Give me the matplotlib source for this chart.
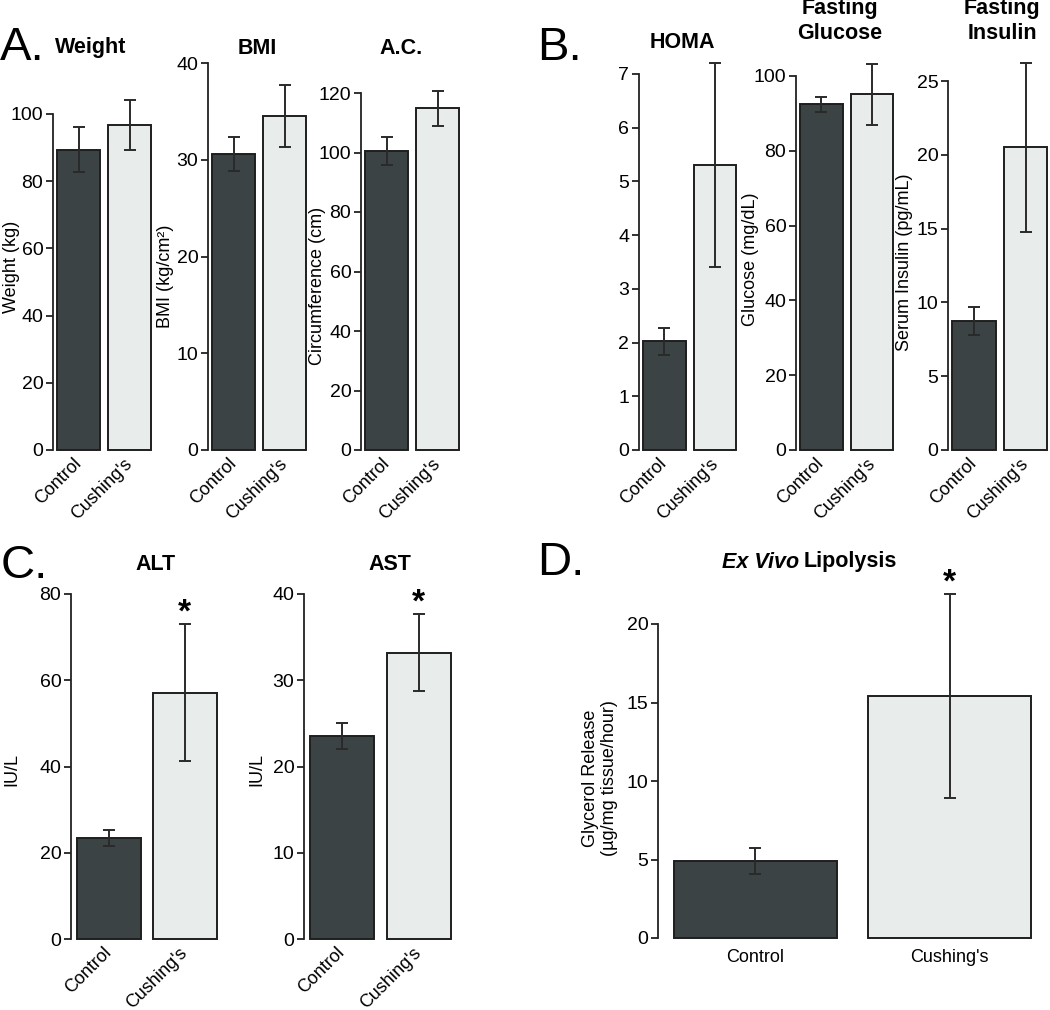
import numpy as np
import matplotlib
matplotlib.use("Agg")
import matplotlib.pyplot as plt

plt.rcParams['font.family'] = ['Liberation Sans', 'DejaVu Sans']

groups = ["Control", "Cushing's"]

weight_mean = [89.3, 96.7]
weight_err = [6.7, 7.4]
bmi_mean = [30.6, 34.5]
bmi_err = [1.8, 3.2]
ac_mean = [100.6, 114.8]
ac_err = [4.7, 6.0]
homa_mean = [2.02, 5.31]
homa_err = [0.26, 1.9]
glucose_mean = [92.4, 95.1]
glucose_err = [1.9, 8.2]
insulin_mean = [8.75, 20.5]
insulin_err = [0.96, 5.7]
alt_mean = [23.4, 57.1]
alt_err = [1.9, 15.9]
ast_mean = [23.5, 33.2]
ast_err = [1.5, 4.45]
lipo_mean = [4.9, 15.4]
lipo_err = [0.83, 6.5]

DARK = '#3b4345'
LIGHT = '#e8ecea'
EDGE = '#1e1e1e'
W, H = 1050, 1010

fig = plt.figure(figsize=(W / 100, H / 100), dpi=100)


def px_axes(left, width, top, zero):
    # pixel box -> figure fraction
    return fig.add_axes([left / W, 1 - zero / H, width / W, (zero - top) / H])


def bar_panel(ax, mean, err, ymax, step, ylabel=None, lab_xy=None, star=False, rotate=True):
    x = np.arange(len(groups))
    ax.bar(x, mean, width=0.84, color=[DARK, LIGHT], edgecolor=EDGE,
           linewidth=1.4, clip_on=False)
    eb = ax.errorbar(x, mean, yerr=err, fmt='none', ecolor='#2a2a2a',
                     elinewidth=1.4, capsize=4, capthick=1.4)
    for a in list(eb[1]) + list(eb[2]):
        a.set_clip_on(False)
    ax.set_xlim(-0.5, 1.45)
    ax.set_ylim(0, ymax)
    ax.set_yticks(np.arange(0, ymax + step / 2, step))
    for s in ['top', 'right', 'bottom']:
        ax.spines[s].set_visible(False)
    ax.spines['left'].set_linewidth(1.3)
    ax.spines['left'].set_color('#222222')
    ax.tick_params(axis='y', length=5, width=1.3, labelsize=14, pad=2, color='#222222')
    ax.set_xticks(x)
    if rotate:
        ax.set_xticklabels(groups, rotation=45, ha='right', va='center',
                           rotation_mode='anchor', fontsize=13)
        ax.tick_params(axis='x', length=0, pad=8)
    else:
        ax.set_xticklabels(groups, fontsize=13)
        ax.tick_params(axis='x', length=0, pad=8)
    if ylabel:
        ax.set_ylabel(ylabel, fontsize=13)
        ax.yaxis.set_label_coords(*lab_xy)
    if star:
        ax.annotate('*', xy=(1, mean[1] + err[1]), xytext=(0, -3),
                    textcoords='offset points', ha='center', va='bottom',
                    fontsize=24, fontweight='bold', annotation_clip=False)


# A
ax = px_axes(53, 100, 114, 450)
bar_panel(ax, weight_mean, weight_err, 100, 20, 'Weight (kg)', (-0.33, 0.545))
ax = px_axes(208, 100, 63, 450)
bar_panel(ax, bmi_mean, bmi_err, 40, 10, 'BMI (kg/cm²)', (-0.34, 0.45))
ax = px_axes(361, 100, 93, 450)
bar_panel(ax, ac_mean, ac_err, 120, 20, 'Circumference (cm)', (-0.35, 0.46))

# B
ax = px_axes(639, 99, 74, 450)
bar_panel(ax, homa_mean, homa_err, 7, 1)
ax = px_axes(796, 99, 76, 450)
bar_panel(ax, glucose_mean, glucose_err, 100, 20, 'Glucose (mg/dL)', (-0.37, 0.51))
ax = px_axes(948, 101, 81, 450)
bar_panel(ax, insulin_mean, insulin_err, 25, 5, 'Serum Insulin (pg/mL)', (-0.35, 0.51))

# C
ax = px_axes(71, 148, 594, 939)
bar_panel(ax, alt_mean, alt_err, 80, 20, 'IU/L', (-0.34, 0.49), star=True)
ax = px_axes(304, 149, 594, 939)
bar_panel(ax, ast_mean, ast_err, 40, 10, 'IU/L', (-0.26, 0.49), star=True)

# D
ax = px_axes(658, 379, 624, 938)
bar_panel(ax, lipo_mean, lipo_err, 20, 5, 'Glycerol Release\n(µg/mg tissue/hour)',
          (-0.105, 0.51), star=True, rotate=False)


def ftext(x, y, s, **kw):
    fig.text(x / W, 1 - y / H, s, **kw)


title_kw = dict(fontsize=15.5, fontweight='bold', ha='center', va='center')
ftext(91, 48, 'Weight', **title_kw)
ftext(257, 48, 'BMI', **title_kw)
ftext(401, 48, 'A.C.', **title_kw)
ftext(682, 42, 'HOMA', **title_kw)
ftext(840, 21, 'Fasting\nGlucose', linespacing=1.2, **title_kw)
ftext(1002, 21, 'Fasting\nInsulin', linespacing=1.2, **title_kw)
ftext(156, 564, 'ALT', **title_kw)
ftext(390, 564, 'AST', **title_kw)
ftext(799, 562, 'Ex Vivo', fontsize=15.5, fontweight='bold', fontstyle='italic',
      ha='right', va='center')
ftext(804, 562, 'Lipolysis', fontsize=15.5, fontweight='bold', ha='left', va='center')

letter_kw = dict(fontsize=34, ha='left', va='center')
ftext(0, 48, 'A.', **letter_kw)
ftext(537, 48, 'B.', **letter_kw)
ftext(1, 566, 'C.', **letter_kw)
ftext(537, 563, 'D.', **letter_kw)

fig.savefig('out.png', dpi=100)
